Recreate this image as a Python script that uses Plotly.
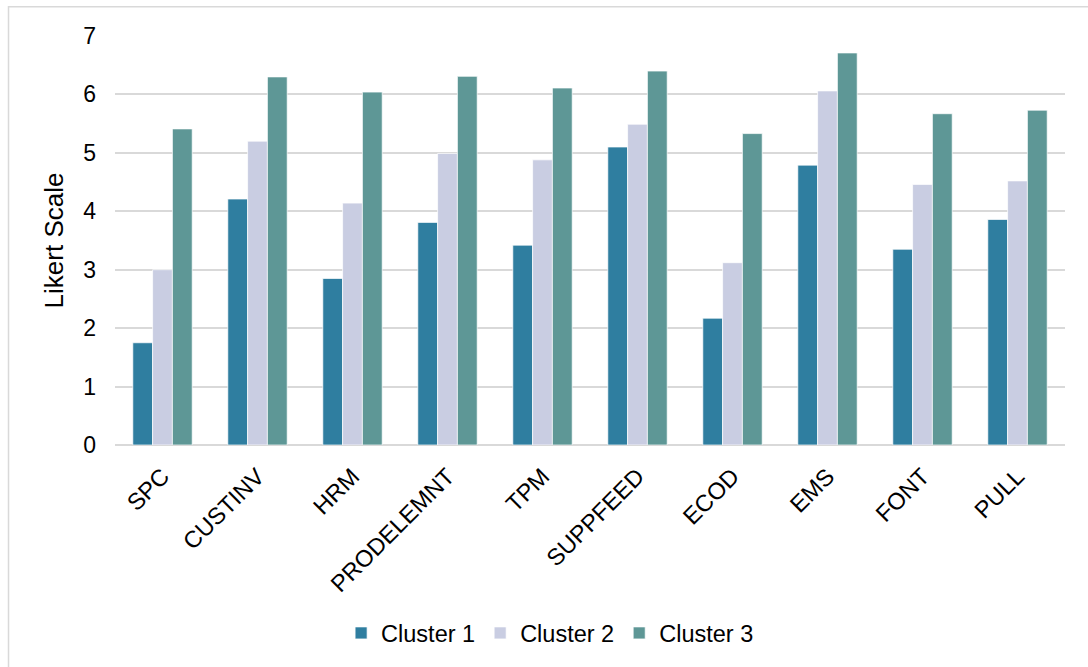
import plotly.graph_objects as go

categories = ["SPC", "CUSTINV", "HRM", "PRODELEMNT", "TPM", "SUPPFEED", "ECOD", "EMS", "FONT", "PULL"]
cluster1 = [1.75, 4.21, 2.85, 3.81, 3.42, 5.10, 2.17, 4.79, 3.35, 3.86]
cluster2 = [3.00, 5.20, 4.14, 4.99, 4.88, 5.49, 3.12, 6.06, 4.46, 4.52]
cluster3 = [5.41, 6.30, 6.04, 6.31, 6.11, 6.40, 5.33, 6.71, 5.67, 5.73]
series_names = ["Cluster 1", "Cluster 2", "Cluster 3"]
colors = ["#2F7EA0", "#C9CDE2", "#5E9796"]
y_ticks = [0, 1, 2, 3, 4, 5, 6, 7]

FONT = "Arial, Liberation Sans, sans-serif"

fig = go.Figure()
for name, vals, col in zip(series_names, [cluster1, cluster2, cluster3], colors):
    fig.add_trace(go.Bar(
        x=categories, y=vals, name=name,
        marker=dict(color=col, line=dict(color="rgba(255,255,255,0.7)", width=1)),
    ))

fig.update_layout(
    width=1088, height=667,
    margin=dict(l=115, r=23, t=36, b=222),
    paper_bgcolor="white", plot_bgcolor="white",
    barmode="group", bargap=0.375, bargroupgap=0,
    font=dict(family=FONT, size=23.5, color="#000000"),
    showlegend=True,
    legend=dict(
        orientation="h", x=0.458, xanchor="center", y=-0.46, yanchor="middle",
        font=dict(family=FONT, size=23.5, color="#000000"),
        itemwidth=30, traceorder="normal",
    ),
    xaxis=dict(
        tickangle=-45, showgrid=False, showline=False, zeroline=False,
        tickfont=dict(family=FONT, size=23.5, color="#000000"),
        ticklabelstandoff=12,
    ),
    yaxis=dict(
        range=[0, 7], tickvals=y_ticks, showgrid=True, gridcolor="#D9D9D9", gridwidth=1.5,
        zeroline=True, zerolinecolor="#D9D9D9", zerolinewidth=1.5, showline=False,
        tickfont=dict(family=FONT, size=23, color="#000000"),
        ticklabelstandoff=18,
        title=dict(text="Likert Scale", font=dict(family=FONT, size=26, color="#000000"), standoff=12),
    ),
    shapes=[dict(
        type="rect", xref="paper", yref="paper",
        x0=-0.1121, x1=1.04, y0=-0.58, y1=1.0716,
        line=dict(color="#D9D9D9", width=1.5), fillcolor="rgba(0,0,0,0)", layer="below",
    )],
)

fig.write_html("out.html")
